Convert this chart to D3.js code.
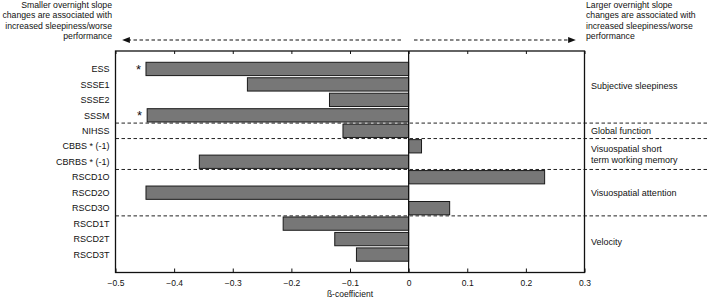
<!DOCTYPE html>
<html><head><meta charset="utf-8">
<script src="https://cdn.jsdelivr.net/npm/d3@7"></script>
<style>
body{margin:0;background:#fff;}
text{font-family:"Liberation Sans",Arial,sans-serif;fill:#111;}
</style></head>
<body><svg id="c" width="709" height="298"></svg>
<script>
const categories = ["ESS","SSSE1","SSSE2","SSSM","NIHSS","CBBS * (-1)","CBRBS * (-1)","RSCD1O","RSCD2O","RSCD3O","RSCD1T","RSCD2T","RSCD3T"];
const betas = [-0.448,-0.275,-0.135,-0.446,-0.112,0.022,-0.357,0.232,-0.448,0.070,-0.214,-0.126,-0.089];
const significant = [true,false,false,true,false,false,false,false,false,false,false,false,false];
const xTicks = [-0.5,-0.4,-0.3,-0.2,-0.1,0,0.1,0.2,0.3];
const groups = [
  {lines:["Subjective sleepiness"], first:"ESS", last:"SSSM"},
  {lines:["Global function"], first:"NIHSS", last:"NIHSS"},
  {lines:["Visuospatial short","term working memory"], first:"CBBS * (-1)", last:"CBRBS * (-1)"},
  {lines:["Visuospatial attention"], first:"RSCD1O", last:"RSCD3O"},
  {lines:["Velocity"], first:"RSCD1T", last:"RSCD3T"}
];
const leftNote = ["Smaller overnight slope","changes are associated with","increased sleepiness/worse","performance"];
const rightNote = ["Larger overnight slope","changes are associated with","increased sleepiness/worse","performance"];
const xTitle = "ß-coefficient";

const svg = d3.select("#c");
const L=115.5, R=584.5, T=51, B=272.5;
const x = d3.scaleLinear().domain([-0.5,0.3]).range([L,R]);
const y = d3.scaleBand().domain(categories).range([T,B]).paddingInner(0.14).paddingOuter(0.73);

// bars
svg.append("g").selectAll("rect").data(categories).join("rect")
  .attr("x",(d,i)=>x(Math.min(0,betas[i])))
  .attr("width",(d,i)=>Math.abs(x(betas[i])-x(0)))
  .attr("y",d=>y(d)).attr("height",y.bandwidth())
  .attr("fill","#777").attr("stroke","#1a1a1a").attr("stroke-width",1);

// asterisks
svg.append("g").selectAll("text").data(categories.filter((d,i)=>significant[i])).join("text")
  .attr("x",d=>x(betas[categories.indexOf(d)])-5)
  .attr("y",d=>y(d)+y.bandwidth()/2+5)
  .attr("text-anchor","end").attr("font-size",13).text("*");

// group separators
const sepY = [];
groups.slice(1).forEach(g=>{
  const prevIdx = categories.indexOf(g.first)-1;
  sepY.push((y(categories[prevIdx])+y.bandwidth() + y(g.first))/2);
});
svg.append("g").selectAll("line").data(sepY).join("line")
  .attr("x1",L).attr("x2",709).attr("y1",d=>d).attr("y2",d=>d)
  .attr("stroke","#222").attr("stroke-width",1).attr("stroke-dasharray","3.5,2.5");

// zero line
svg.append("line").attr("x1",x(0)).attr("x2",x(0)).attr("y1",T).attr("y2",B)
  .attr("stroke","#111").attr("stroke-width",1.2);

// frame
svg.append("rect").attr("x",L).attr("y",T).attr("width",R-L).attr("height",B-T)
  .attr("fill","none").attr("stroke","#111").attr("stroke-width",1.3);

// bottom axis
const ax = svg.append("g").attr("transform",`translate(0,${B})`)
  .call(d3.axisBottom(x).tickValues(xTicks).tickSizeInner(-4).tickSizeOuter(0).tickPadding(7)
    .tickFormat(d=>d===0?"0":d3.format(".1f")(d)));
ax.select(".domain").remove();
ax.selectAll("line").attr("stroke","#111");
ax.selectAll("text").attr("font-size",8.5).attr("fill","#111").attr("font-family","Liberation Sans, Arial, sans-serif");
// top ticks
const at = svg.append("g").attr("transform",`translate(0,${T})`)
  .call(d3.axisTop(x).tickValues(xTicks).tickSizeInner(-3).tickSizeOuter(0).tickFormat(""));
at.select(".domain").remove();
at.selectAll("line").attr("stroke","#111");

// y labels
svg.append("g").selectAll("text").data(categories).join("text")
  .attr("x",L-6).attr("y",d=>y(d)+y.bandwidth()/2+3.2)
  .attr("text-anchor","end").attr("font-size",9).text(d=>d);

// x title
svg.append("text").attr("x",(L+R)/2).attr("y",297).attr("text-anchor","middle")
  .attr("font-size",8.5).text(xTitle);

// group labels
groups.forEach((g,gi)=>{
  const y0=y(g.first), y1=y(g.last)+y.bandwidth();
  let cy=(y0+y1)/2;
  if(gi===0) cy-=6;
  if(gi===4) cy+=3;
  const n=g.lines.length, lh=11;
  g.lines.forEach((t,k)=>{
    svg.append("text").attr("x",591).attr("y",cy+(k-(n-1)/2)*lh+3.2)
      .attr("font-size",9).text(t);
  });
});

// notes
leftNote.forEach((t,k)=>svg.append("text").attr("x",112).attr("y",8+k*10.4)
  .attr("text-anchor","end").attr("font-size",8.7).text(t));
rightNote.forEach((t,k)=>svg.append("text").attr("x",586).attr("y",8+k*10.4)
  .attr("font-size",8.7).text(t));

// arrows
const defs = svg.append("defs");
defs.append("marker").attr("id","ah").attr("viewBox","0 0 10 10").attr("refX",5).attr("refY",5)
  .attr("markerWidth",7).attr("markerHeight",7).attr("orient","auto-start-reverse")
  .append("path").attr("d","M0,1 L10,5 L0,9 Z").attr("fill","#111");
const ay=40;
svg.append("line").attr("x1",401).attr("x2",126).attr("y1",ay).attr("y2",ay)
  .attr("stroke","#111").attr("stroke-width",1.1).attr("stroke-dasharray","3.5,2.5").attr("marker-end","url(#ah)");
svg.append("line").attr("x1",414).attr("x2",572).attr("y1",ay).attr("y2",ay)
  .attr("stroke","#111").attr("stroke-width",1.1).attr("stroke-dasharray","3.5,2.5").attr("marker-end","url(#ah)");
</script></body></html>
